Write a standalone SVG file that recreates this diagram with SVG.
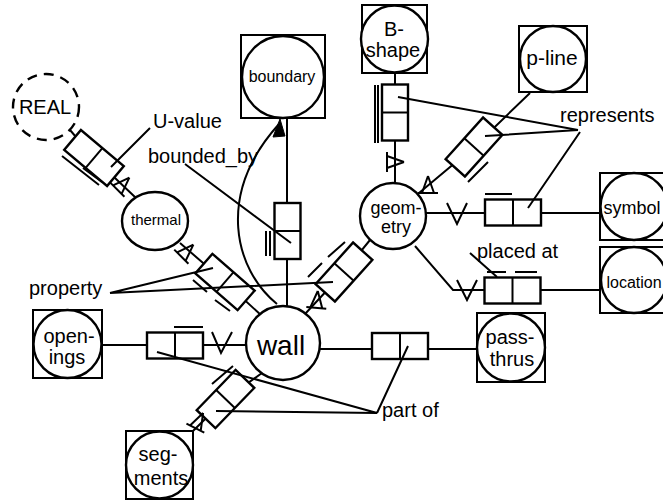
<svg xmlns="http://www.w3.org/2000/svg" width="663" height="501" viewBox="0 0 663 501">
<style>
.ln{stroke:#000;stroke-width:2;fill:none}
.bx{stroke:#000;stroke-width:2.4;fill:#fff}
.nd{stroke:#000;stroke-width:2.4;fill:#fff}
.sq{stroke:#000;stroke-width:2;fill:#fff}
.t{font-family:"Liberation Sans",Arial,sans-serif;fill:#000}
.lab{font-size:20px}
.c{text-anchor:middle}
</style>
<defs>
<g id="rbox"><rect class="bx" x="-28" y="-13" width="56" height="26"/><line class="ln" x1="0" y1="-13" x2="0" y2="13"/></g>
<path id="markA" class="ln" d="M0,-9 L-6,8 M0,-9 L6,8 M-10,8 L10,8"/>
</defs>
<rect width="663" height="501" fill="#fff"/>
<g id="connectors">
<line class="ln" x1="102" y1="345" x2="246" y2="345"/>
<line class="ln" x1="320" y1="349" x2="477" y2="349"/>
<line class="ln" x1="287" y1="306" x2="287" y2="118"/>
<line class="ln" x1="395" y1="73" x2="395" y2="183"/>
<line class="ln" x1="426" y1="213" x2="600" y2="213"/>
<polyline class="ln" points="415,246 453,290 600,290"/>
<polyline class="ln" points="419,193 474,147 530,93"/>
<polyline class="ln" points="180,243 225,282 262,316"/>
<polyline class="ln" points="370,240 344,272 305,314"/>
<polyline class="ln" points="193,431 225.5,399 262,373"/>
<polyline class="ln" points="70,130 94,158 136,198"/>
<path class="ln" d="M277,304 C235,270 215,195 279,124"/>
<polygon points="280,119 273,137 285,136" fill="#000" stroke="#000" stroke-width="1"/>
<use href="#rbox" transform="translate(175,345.5)"/>
<use href="#rbox" transform="translate(400,346)"/>
<use href="#rbox" transform="translate(287.5,231) rotate(90)"/>
<use href="#rbox" transform="translate(395,112.5) rotate(90)"/>
<use href="#rbox" transform="translate(513,212.5)"/>
<use href="#rbox" transform="translate(512.5,290.5)"/>
<use href="#rbox" transform="translate(474,147) rotate(-48)"/>
<use href="#rbox" transform="translate(225,282) rotate(41)"/>
<use href="#rbox" transform="translate(344,272) rotate(-48)"/>
<use href="#rbox" transform="translate(225.5,399) rotate(-46)"/>
<use href="#rbox" transform="translate(94,158) rotate(40)"/>
<path class="ln" d="M174,327 H203 M485,194 H512 M487,272 H506 M515,272 H537 M266,231 V256 M270,231 V256 M375,85 V143 M378,85 V143 M193,280 L207,292 M215,300 L230,311 M308,277 L322,263 M328,257 L345,242 M212,384 L233,366 M468,182 L488,162 M62,156 L99,185 M83,168 L102,182"/>
<path class="ln" d="M212,332 L221,353 L232,332 M447,203 L457,224 L467,203 M457,280 L467,300 L477,280"/>
<use href="#markA" transform="translate(317,300) rotate(5)"/>
<use href="#markA" transform="translate(187,251) rotate(45)"/>
<use href="#markA" transform="translate(123,184) rotate(45)"/>
<use href="#markA" transform="translate(428,185)"/>
<use href="#markA" transform="translate(395,162) rotate(90)"/>
<use href="#markA" transform="translate(199,421) rotate(27)"/>
<path class="ln" d="M150,128 L111,167 M185,164 L291,243 M110,293 L213,268 M110,293 L333,282 M578,130 L398,97 M578,130 L485,136 M580,132 L528,208 M470,253 L497,277 M377,413 L408,346 M377,413 L157,352 M377,413 L216,411"/>
</g>
<g id="wall"><circle class="nd" cx="283" cy="343" r="37" stroke-width="3.5"/><text class="t c" x="281" y="355" font-size="28">wall</text></g>
<g id="thermal"><ellipse class="nd" cx="155" cy="221" rx="33" ry="29"/><text class="t c" x="156" y="225" font-size="15">thermal</text></g>
<g id="geometry"><circle class="nd" cx="393" cy="216" r="33"/><text class="t c" x="396" y="214" font-size="18">geom-</text><text class="t c" x="396" y="233" font-size="18">etry</text></g>
<g id="REAL"><circle cx="46" cy="107" r="33" fill="#fff" stroke="#000" stroke-width="2.4" stroke-dasharray="10 7"/><text class="t c" x="45" y="114" font-size="20">REAL</text></g>
<g id="boundary"><rect class="sq" x="241" y="35" width="84" height="83"/><circle class="nd" cx="283" cy="77" r="41"/><text class="t c" x="282" y="82" font-size="16">boundary</text></g>
<g id="B-shape"><rect class="sq" x="362" y="5" width="65" height="68"/><circle class="nd" cx="394.5" cy="39" r="33.5"/><text class="t c" x="394" y="36" font-size="20">B-</text><text class="t c" x="393" y="57" font-size="20">shape</text></g>
<g id="p-line"><rect class="sq" x="519" y="26" width="68" height="66"/><circle class="nd" cx="553" cy="59" r="33"/><text class="t c" x="552" y="65" font-size="21">p-line</text></g>
<g id="symbol"><rect class="sq" x="600" y="173" width="68" height="67"/><circle class="nd" cx="634" cy="206.5" r="33.5"/><text class="t c" x="632" y="214" font-size="18">symbol</text></g>
<g id="location"><rect class="sq" x="600" y="247" width="68" height="66"/><circle class="nd" cx="634" cy="280" r="33"/><text class="t c" x="634" y="288" font-size="16">location</text></g>
<g id="pass-thrus"><rect class="sq" x="477" y="313" width="68" height="69"/><circle class="nd" cx="511" cy="347.5" r="34"/><text class="t c" x="510" y="344" font-size="20">pass-</text><text class="t c" x="512" y="366" font-size="20">thrus</text></g>
<g id="openings"><rect class="sq" x="33" y="310" width="69" height="68"/><circle class="nd" cx="67.5" cy="344" r="34"/><text class="t c" x="69" y="343" font-size="20">open-</text><text class="t c" x="67" y="364" font-size="20">ings</text></g>
<g id="segments"><rect class="sq" x="126" y="431" width="67" height="68"/><circle class="nd" cx="159.5" cy="465" r="33.5"/><text class="t c" x="158" y="461" font-size="20">seg-</text><text class="t c" x="161" y="485" font-size="20">ments</text></g>
<g id="labels">
<text class="t lab" x="153" y="128">U-value</text>
<text class="t lab" x="148" y="163">bounded_by</text>
<text class="t lab" x="29" y="295">property</text>
<text class="t lab" x="560" y="122">represents</text>
<text class="t lab" x="477" y="258">placed at</text>
<text class="t lab" x="382" y="417">part of</text>
</g>
</svg>
